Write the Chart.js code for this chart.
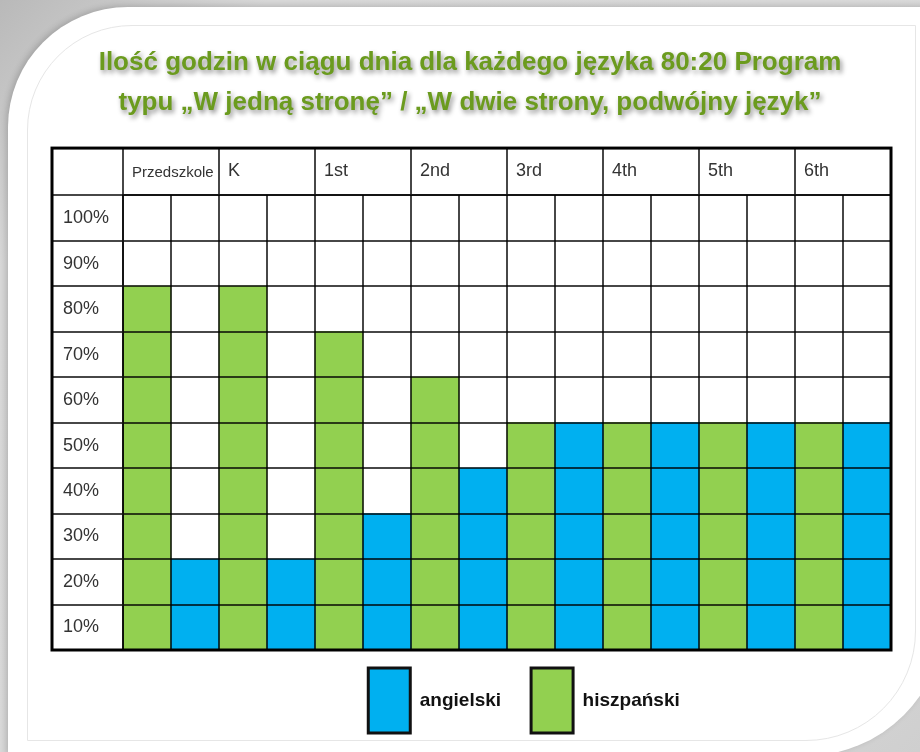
<!DOCTYPE html>
<html lang="pl">
<head>
<meta charset="utf-8">
<title>Ilość godzin w ciągu dnia dla każdego języka</title>
<script src="https://cdn.jsdelivr.net/npm/chart.js@4.4.1/dist/chart.umd.min.js"></script>
<style>
    html, body { margin: 0; padding: 0; }
    body {
        width: 920px; height: 752px; overflow: hidden; position: relative;
        background: linear-gradient(135deg, #b9b9b9 0%, #d8d8d8 16%, #dadada 80%, #cfcfcf 100%);
    }
    #card {
        position: absolute; left: 8px; top: 7px; width: 937px; height: 749px; background: #fff;
        border-top-left-radius: 120px; border-bottom-right-radius: 140px;
        box-shadow: -2px -1px 6px rgba(0, 0, 0, 0.18);
    }
    #cardLine {
        position: absolute; left: 27px; top: 25px; width: 887px; height: 714px;
        border: 1px solid #e6e6e6; border-top-left-radius: 105px; border-bottom-right-radius: 110px;
    }
    #chartBox { position: absolute; left: 0; top: 0; width: 920px; height: 752px; }
</style>
</head>
<body>
<div id="card"></div>
<div id="cardLine"></div>
<div id="chartBox"><canvas id="dataChart"></canvas></div>
<script>
// ***************************************************************************************************
// Dane wykresu

const grades = ['Przedszkole', 'K', '1st', '2nd', '3rd', '4th', '5th', '6th'];
const angielski = [20, 20, 30, 40, 50, 50, 50, 50];
const hiszpanski = [80, 80, 70, 60, 50, 50, 50, 50];
const percentLabels = ['10%', '20%', '30%', '40%', '50%', '60%', '70%', '80%', '90%', '100%'];

// ***************************************************************************************************

const GRID = 'rgba(0, 0, 0, 0.72)';

// każda klasa ma dwie kolumny: hiszpański (lewa) i angielski (prawa)
var subColumns = [];
var hiszpanskiCells = [];
var angielskiCells = [];
grades.forEach((grade, i) => {
    subColumns.push(grade + ' hiszpański', grade + ' angielski');
    hiszpanskiCells.push(hiszpanski[i], null);
    angielskiCells.push(null, angielski[i]);
});

Chart.defaults.font.family = "'Liberation Sans', Arial, sans-serif";
Chart.defaults.color = '#333';

const tableFrame = {
    id: 'tableFrame',
    beforeDraw(chart) {
        const c = chart.ctx;
        // cień tylko pod tytułem
        const t = chart.titleBlock;
        if (t && !t._patched) {
            const drawTitle = t.draw.bind(t);
            t.draw = function (area) {
                c.save();
                c.shadowColor = 'rgba(0, 0, 0, 0.45)';
                c.shadowBlur = 5;
                c.shadowOffsetX = 2;
                c.shadowOffsetY = 3;
                drawTitle(area);
                c.restore();
            };
            t._patched = true;
        }
        // legenda lekko przesunięta względem środka wykresu
        const l = chart.legend;
        if (l && !l._patched) {
            const drawLegend = l.draw.bind(l);
            l.draw = function (area) {
                c.save();
                c.translate(17, -12);
                drawLegend(area);
                c.restore();
            };
            l._patched = true;
        }
    },
    afterDraw(chart) {
        // gruba ramka całej tabeli
        const { ctx, chartArea, scales } = chart;
        const left = chartArea.left - scales.y.options.grid.tickLength;
        const top = scales.xTop.top;
        ctx.save();
        ctx.strokeStyle = '#000';
        ctx.lineWidth = 3;
        ctx.strokeRect(left, top, chartArea.right - left, chartArea.bottom - top);
        ctx.restore();
    }
};

const ctx = document.getElementById('dataChart').getContext('2d');

globalThis.languageChart = new Chart(ctx, {
    type: 'bar',
    data: {
        labels: subColumns,
        datasets: [
            {
                label: 'angielski',
                data: angielskiCells,
                backgroundColor: '#00b0f0',
                borderWidth: 0,
                grouped: false,
                barPercentage: 1,
                categoryPercentage: 1,
                xAxisID: 'x',
                yAxisID: 'y'
            },
            {
                label: 'hiszpański',
                data: hiszpanskiCells,
                backgroundColor: '#92d050',
                borderWidth: 0,
                grouped: false,
                barPercentage: 1,
                categoryPercentage: 1,
                xAxisID: 'x',
                yAxisID: 'y'
            }
        ]
    },
    options: {
        responsive: true,
        maintainAspectRatio: false,
        animation: false,
        layout: {
            padding: { top: 20, left: 49, right: 29, bottom: -3 }
        },
        scales: {
            x: {
                type: 'category',
                position: 'bottom',
                offset: true,
                grid: { offset: true, color: GRID, lineWidth: 2, drawTicks: false, z: 1 },
                border: { color: GRID, width: 2, z: 1 },
                ticks: { display: false }
            },
            xTop: {
                type: 'category',
                labels: grades,
                position: 'top',
                offset: true,
                grid: { offset: true, drawOnChartArea: false, color: GRID, lineWidth: 2, tickLength: 47, z: 1 },
                border: { color: GRID, width: 2, z: 1 },
                ticks: {
                    align: 'start',
                    labelOffset: -39,
                    padding: -34,
                    autoSkip: false,
                    maxRotation: 0,
                    color: '#333',
                    font: (c) => ({ size: c.index === 0 ? 15 : 18 })
                },
                afterFit: (scale) => { scale.height = 47; }
            },
            y: {
                min: 0,
                max: 100,
                grid: { color: GRID, lineWidth: 2, tickLength: 71, z: 1 },
                border: { color: GRID, width: 2, z: 1 },
                ticks: {
                    stepSize: 10,
                    mirror: true,
                    padding: -60,
                    labelOffset: 23,
                    color: '#333',
                    font: { size: 18 },
                    callback: (value) => percentLabels[value / 10 - 1] || ''
                },
                afterFit: (scale) => { scale.width = 74; }
            }
        },
        plugins: {
            title: {
                display: true,
                text: [
                    'Ilość godzin w ciągu dnia dla każdego języka 80:20 Program',
                    'typu „W jedną stronę” / „W dwie strony, podwójny język”'
                ],
                color: '#6b9b1e',
                font: { size: 26, weight: 'bold', lineHeight: 1.54 },
                padding: { top: 23, bottom: 25 }
            },
            legend: {
                position: 'bottom',
                fullSize: false,
                labels: {
                    boxWidth: 42,
                    boxHeight: 65,
                    padding: 30,
                    color: '#111',
                    font: { size: 19, weight: 'bold' },
                    generateLabels: (chart) => Chart.defaults.plugins.legend.labels.generateLabels(chart)
                        .map(item => Object.assign(item, { lineWidth: 3, strokeStyle: '#111' }))
                }
            },
            tooltip: { enabled: false }
        }
    },
    plugins: [tableFrame]
});
</script>
</body>
</html>
